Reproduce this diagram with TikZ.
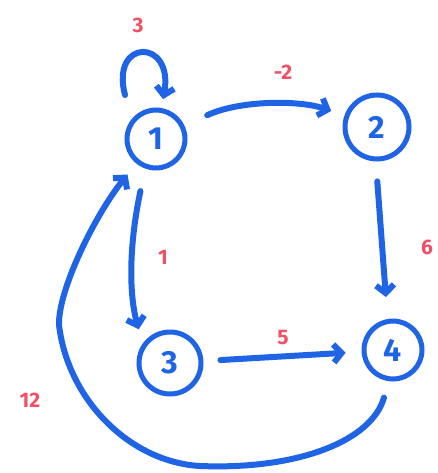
\documentclass[tikz,border=0pt]{standalone}
\usepackage{fontspec}
\setmainfont{Fira Sans}
\usetikzlibrary{arrows.meta}
\definecolor{pen}{RGB}{30,100,228}
\definecolor{redpen}{RGB}{242,80,100}
\tikzset{
  vertex/.style={circle,draw=pen,line width=5pt,minimum size=58pt,inner sep=0pt,
    text=pen,font=\fontsize{32}{32}\selectfont\bfseries},
  wlabel/.style={text=redpen,font=\fontsize{21}{21}\selectfont\bfseries},
  edge/.style={draw=pen,line width=6pt,line cap=round,line join=round,
    -{Straight Barb[length=8pt,width=18pt]}},
}
\begin{document}
\begin{tikzpicture}[x=1pt,y=-1pt]
\useasboundingbox[fill=white] (0,0) rectangle (438,473);
\node[vertex] (n1) at (156,139) {1};
\node[vertex,minimum size=64pt] (n2) at (377,127) {2};
\node[vertex,minimum size=62pt] (n3) at (170,363) {3};
\node[vertex] (n4) at (393,350) {4};
\coordinate (l1) at (125,95);
\coordinate (c1) at (200,466);
\coordinate (c2) at (59,325);
% self loop
\draw[edge,shorten >=9pt] (l1) .. controls (110,38) and (174,38) .. (n1);
% 1 -> 2
\draw[edge,shorten <=25pt,shorten >=14pt] (n1) .. controls (240,100) and (300,100) .. (n2);
% 2 -> 4
\draw[edge,shorten <=20pt,shorten >=22pt] (n2.268) -- (n4.100);
% 1 -> 3
\draw[edge,shorten <=23pt,shorten >=15pt] (n1.250) .. controls (130,240) and (128,290) .. (n3.145);
% 3 -> 4
\draw[edge,shorten <=17pt,shorten >=16pt] (n3) -- (n4);
% 4 -> 1
\draw[edge,shorten <=17pt,shorten >=14pt] (n4.262) .. controls (372,440) and (300,470) .. (c1)
  .. controls (130,462) and (68,400) .. (c2) .. controls (58,290) and (95,215) .. (n1);
% weights
\node[wlabel] (w3) at (138,25) {3};
\node[wlabel] (wm2) at (283,72) {-2};
\node[wlabel] (w6) at (427,247) {6};
\node[wlabel] (w1) at (163,257) {1};
\node[wlabel] (w5) at (283,338) {5};
\node[wlabel] (w12) at (30,400) {12};
\end{tikzpicture}
\end{document}
